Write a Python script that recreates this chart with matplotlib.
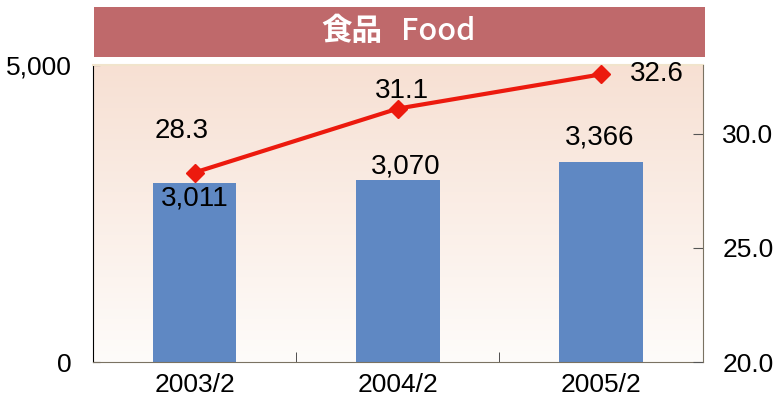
import numpy as np
import matplotlib
matplotlib.use("Agg")
import matplotlib.pyplot as plt
from matplotlib.patches import Rectangle

# data
years = ["2003/2", "2004/2", "2005/2"]
sales = [3011, 3070, 3366]
share = [28.3, 31.1, 32.6]
sales_labels = ["3,011", "3,070", "3,366"]
share_labels = ["28.3", "31.1", "32.6"]

plt.rcParams['font.family'] = ["Liberation Sans", "DejaVu Sans"]

fig = plt.figure(figsize=(7.74, 4.05), dpi=100)
ax = fig.add_axes([0.120, 0.106, 0.788, 0.733])
ax2 = ax.twinx()

# gradient background
grad = np.linspace(0, 1, 256).reshape(-1, 1)
top = np.array([247, 224, 211]) / 255
bot = np.array([254, 252, 250]) / 255
img = bot + (top - bot) * grad[:, :, None] * np.ones((1, 1, 3))
ax.imshow(img, extent=[0, 1, 0, 1], transform=ax.transAxes, origin='lower',
          aspect='auto', zorder=0)

x = np.arange(len(years))
ax.bar(x, sales, width=0.41, color="#5F88C3", zorder=2)
ax.set_xlim(-0.5, 2.5)
ax.set_ylim(0, 5000)
ax.set_yticks([0, 5000])
ax.set_yticklabels(["0", "5,000"], fontsize=19)
ax.set_xticks(x)
ax.set_xticklabels(years, fontsize=19)
ax.tick_params(axis='x', length=0, pad=8)
ax.tick_params(axis='y', length=5, direction='in', pad=15)
ax.set_xticks([0.5, 1.5], minor=True)
ax.tick_params(axis='x', which='minor', length=7, direction='in', color='#333333')

ax2.plot(x, share, color="#EC1A0E", linewidth=3, marker='D', markersize=9,
         zorder=5)
ax2.set_ylim(20, 33)
ax2.set_yticks([20, 25, 30])
ax2.set_yticklabels(["20.0", "25.0", "30.0"], fontsize=19)
ax2.tick_params(axis='y', length=7, direction='in', pad=14, color='#555555')

ax.spines['top'].set_color('#F1E4CC')
ax.spines['top'].set_linewidth(1.5)
ax2.spines['top'].set_visible(False)
ax.spines['left'].set_color('black')
ax.spines['bottom'].set_color('#7A7262')
ax2.spines['right'].set_color('#7A7262')
ax2.spines['left'].set_visible(False)
ax2.spines['bottom'].set_visible(False)
ax.spines['right'].set_visible(False)

# value labels
bar_off = [(0, -11), (6, 9.5), (-1, 18)]
for xi, v, lab, off in zip(x, sales, sales_labels, bar_off):
    ax.annotate(lab, (xi, v), xytext=off, textcoords='offset points',
                ha='center', va='center', fontsize=20, zorder=6)
line_off = [(-9, 30), (3, 13), (40, 0)]
for xi, v, lab, off in zip(x, share, share_labels, line_off):
    ax2.annotate(lab, (xi, v), xytext=off, textcoords='offset points',
                 ha='center', va='center', fontsize=20)

# title banner
fig.patches.append(Rectangle((94 / 774, 1 - 57 / 405), 611 / 774, 50 / 405,
                             transform=fig.transFigure, facecolor="#BF696B",
                             edgecolor='none'))
fig.text(321 / 774, 1 - 31 / 405, "食品", color='white', fontsize=22,
         fontweight='bold', ha='left', va='center',
         family=["Noto Sans CJK JP", "DejaVu Sans"])
fig.text(401 / 774, 1 - 31 / 405, "Food", color='white', fontsize=22,
         fontweight='medium', ha='left', va='center',
         family=["Noto Sans CJK JP", "DejaVu Sans"])

plt.savefig("out.png", dpi=100)
